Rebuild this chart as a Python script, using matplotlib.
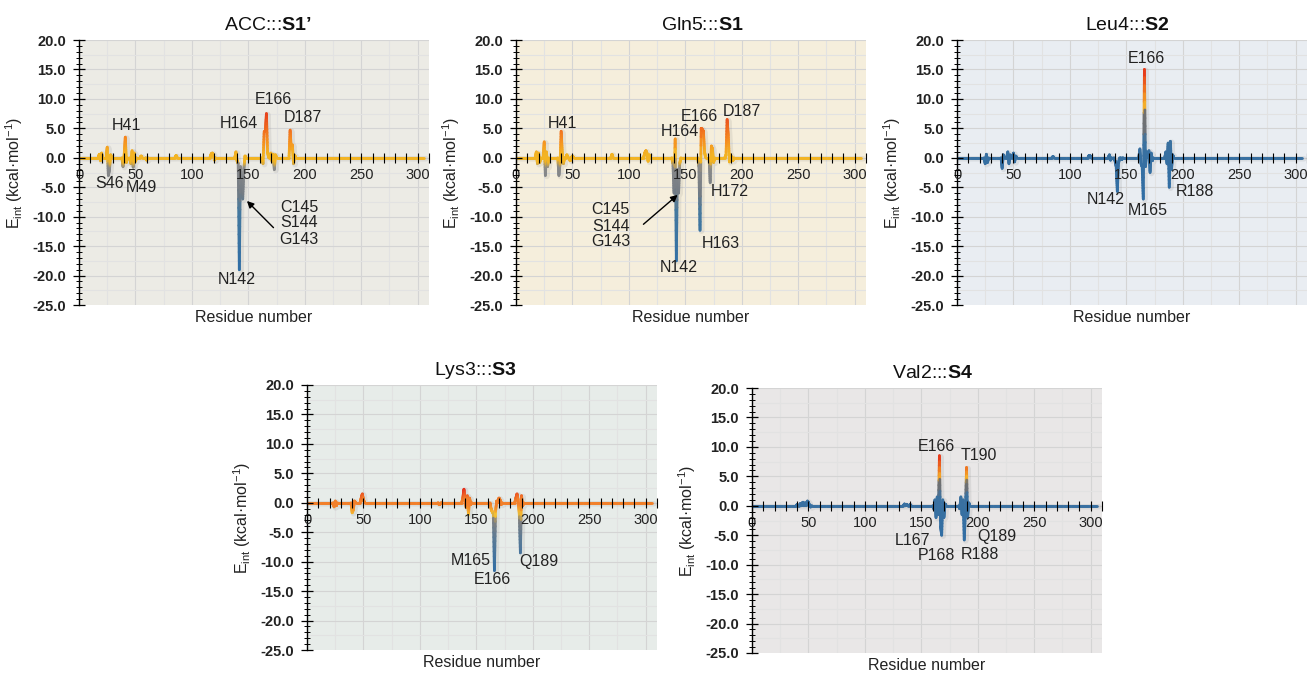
import numpy as np
import matplotlib
matplotlib.use('Agg')
import matplotlib.pyplot as plt
import matplotlib.transforms as mtransforms
from matplotlib.collections import LineCollection
from matplotlib.colors import LinearSegmentedColormap
from matplotlib.ticker import MultipleLocator, FormatStrFormatter

plt.rcParams['font.family'] = ['Liberation Sans', 'DejaVu Sans']
plt.rcParams['mathtext.fontset'] = 'custom'
plt.rcParams['mathtext.rm'] = 'Liberation Sans'
plt.rcParams['mathtext.it'] = 'Liberation Sans:italic'
plt.rcParams['mathtext.bf'] = 'Liberation Sans:bold'
plt.rcParams['axes.unicode_minus'] = False

N_RES = 306

# per-residue interaction energies (kcal/mol), residues not listed are ~0
acc_res = [18, 19, 20, 25, 26, 27, 28, 39, 40, 41, 42, 46, 47, 48, 49, 50, 55, 60, 86,
           117, 118, 119, 120, 139, 140, 141, 142, 143, 144, 145, 146, 147,
           163, 164, 165, 166, 167, 170, 171, 172, 173, 174, 187, 188, 189, 190, 191]
acc_e = [0.6, -0.5, 0.8, 1.8, -3.0, -2.0, 0.5, -1.5, 0.5, 3.5, -0.8, -1.0, 1.2, -1.6, 0.8, -0.6, 0.3, -0.4, 0.4,
         0.6, 0.8, 0.5, -0.4, 1.0, -0.5, -1.0, -19.0, -1.5, -4.0, -7.0, -2.0, 0.3,
         -1.0, 4.5, 4.5, 7.5, 1.0, 0.8, -0.6, 0.6, -2.0, 0.5, 4.7, 1.5, 2.2, -1.0, 0.4]

gln_res = [18, 19, 20, 21, 25, 26, 27, 28, 38, 39, 40, 41, 42, 45, 48, 50, 85,
           114, 115, 116, 117, 118, 139, 140, 141, 142, 143, 144, 145,
           162, 163, 164, 165, 166, 167, 172, 173, 174, 175, 186, 187, 188, 189, 190, 192]
gln_e = [1.0, -1.0, 0.8, -0.8, 2.7, -3.0, 1.0, -1.5, -3.0, -1.0, 4.5, 0.8, -1.0, 0.5, -0.5, 0.3, 0.6,
         0.8, 1.2, 0.8, -0.6, 0.5, -1.0, -6.0, 3.2, -17.5, -2.0, -6.0, -1.0,
         -1.5, -12.3, 5.0, 4.8, 4.5, 1.0, -4.2, 2.0, 1.5, -0.8, 0.5, 6.5, 3.8, -0.7, 0.5, -0.5]

leu_res = [25, 26, 27, 40, 41, 45, 46, 47, 50, 51, 52, 85, 117, 118, 135, 136,
           140, 141, 142, 143, 146, 162, 163, 164, 165, 166, 167, 168,
           170, 171, 172, 173, 185, 186, 187, 188, 189, 190, 191]
leu_e = [-1.0, 0.6, -0.8, -1.8, 0.5, 1.0, -1.0, 0.5, 0.8, -0.7, 0.3, 0.2, 0.4, 0.3, 0.5, -0.4,
         -0.5, -1.5, -5.7, -1.0, -0.3, 1.5, -1.0, -1.5, -7.0, 15.0, -1.5, 1.0,
         1.2, -2.5, 0.8, -0.5, 1.0, -1.0, 2.5, -5.0, 2.8, -2.0, 0.5]

lys_res = [24, 25, 26, 40, 41, 42, 48, 49, 50, 117, 118,
           138, 139, 140, 141, 142, 143, 144, 145,
           163, 164, 165, 166, 167, 168, 170, 171, 172, 185, 186, 187, 188, 189, 190, 191]
lys_e = [-0.7, 0.3, -0.5, -1.7, -1.2, 0.3, 0.8, 1.5, 0.5, -0.3, -0.2,
         0.8, 2.3, 0.5, -0.8, 1.2, -2.0, 0.8, -0.3,
         -1.0, -1.5, -1.8, -11.5, -1.5, 0.3, 0.8, 0.5, -0.3, 0.8, 1.5, 0.5, -1.8, -8.5, 1.2, -0.5]

val_res = [40, 43, 45, 47, 49, 50, 52, 135, 137, 140,
           161, 162, 163, 164, 165, 166, 167, 168, 169, 170, 171,
           184, 185, 186, 187, 188, 189, 190, 191, 192]
val_e = [0.2, 0.4, 0.6, 0.5, 0.8, 0.6, -0.2, 0.3, 0.2, 0.2,
         -0.5, 1.0, -2.0, 1.5, -1.5, 8.5, -3.5, -5.0, 1.0, -2.0, 0.3,
         -0.5, 1.5, -1.5, 1.0, -5.8, -1.0, 6.5, -2.0, 0.5]

# residue labels: (text, x, y)
acc_labels = [('H41', 42, 5.4), ('S46', 27.5, -4.3), ('M49', 55, -5.1), ('H164', 142, 5.8),
              ('E166', 172, 9.9), ('D187', 198, 6.9), ('C145', 195, -8.5), ('S144', 195, -11.0),
              ('G143', 194.5, -13.9), ('N142', 140, -20.7)]
gln_labels = [('H41', 41, 5.8), ('H164', 145, 4.5), ('E166', 162, 7.0), ('D187', 200, 7.9),
              ('H172', 189, -5.8), ('H163', 181, -14.6), ('N142', 144, -18.6),
              ('C145', 84, -8.8), ('S144', 84, -11.6), ('G143', 84, -14.3)]
leu_labels = [('E166', 167.5, 16.8), ('N142', 132, -7.1), ('M165', 169, -8.9), ('R188', 211, -5.8)]
lys_labels = [('M165', 145, -9.75), ('E166', 164, -13.0), ('Q189', 205, -10.0)]
val_labels = [('E166', 163.5, 10.1), ('T190', 201, 8.6), ('L167', 142.5, -5.9),
              ('P168', 163.5, -8.4), ('R188', 201.5, -8.3), ('Q189', 216.5, -5.3)]

# colour stops (energy value, colour) for each panel
gold_stops = [(-20, '#2c6ca6'), (-9, '#44799f'), (-6, '#737b84'), (-1.5, '#8a8a8a'),
              (-0.6, '#f3b423'), (0.6, '#f3b423'), (3.0, '#f68c1f'), (8.0, '#e6361a')]
leu_stops = [(-10, '#2c6ca6'), (3.0, '#3b71a0'), (4.0, '#6b7077'), (8.0, '#707070'),
             (8.6, '#f4b22a'), (11, '#f07d20'), (15, '#e52e1a')]
val_stops = [(-10, '#2c6ca6'), (1.8, '#3b71a0'), (2.6, '#6b7077'), (4.0, '#707070'),
             (4.6, '#f4b22a'), (6.0, '#f07d20'), (8.5, '#e52e1a')]
lys_stops = [(-12, '#2c6ca6'), (-6, '#5a7a96'), (-3, '#808080'), (-1.9, '#f5c030'),
             (-0.4, '#f2802a'), (0.6, '#f2802a'), (2.4, '#e5281a')]

panels = [
    ("ACC:::$\\mathbf{S1\u2019}$", acc_res, acc_e, acc_labels, gold_stops, '#ecebe5', (79, 40), 0.539),
    ("Gln5:::$\\mathbf{S1}$", gln_res, gln_e, gln_labels, gold_stops, '#f5eedc', (516, 40), 0.533),
    ("Leu4:::$\\mathbf{S2}$", leu_res, leu_e, leu_labels, leu_stops, '#e9edf2', (957, 40), 0.486),
    ("Lys3:::$\\mathbf{S3}$", lys_res, lys_e, lys_labels, lys_stops, '#e7ece9', (307, 385), 0.48),
    ("Val2:::$\\mathbf{S4}$", val_res, val_e, val_labels, val_stops, '#e9e7e7', (752, 388), 0.517),
]

W, H = 1307, 673
AW, AH = 350, 265

fig = plt.figure(figsize=(W / 100, H / 100), dpi=100)


def make_cmap(stops):
    vals = np.array([s[0] for s in stops], dtype=float)
    lo, hi = vals[0], vals[-1]
    cm = LinearSegmentedColormap.from_list('c', [((v - lo) / (hi - lo), c) for v, c in stops])
    return cm, lo, hi


def draw_profile(ax, res, e, stops):
    x = np.arange(1, N_RES + 1)
    y = np.zeros(N_RES)
    y[np.array(res) - 1] = e
    cm, lo, hi = make_cmap(stops)
    t = np.linspace(0, 1, 13)
    segs, vals = [], []
    for i in range(N_RES - 1):
        if y[i] == 0 and y[i + 1] == 0:
            segs.append([(x[i], 0), (x[i + 1], 0)])
            vals.append(0.0)
            continue
        xs = x[i] + t * (x[i + 1] - x[i])
        ys = y[i] + t * (y[i + 1] - y[i])
        for j in range(len(t) - 1):
            segs.append([(xs[j], ys[j]), (xs[j + 1], ys[j + 1])])
            vals.append((ys[j] + ys[j + 1]) / 2)
    vals = np.clip((np.array(vals) - lo) / (hi - lo), 0, 1)
    # soft shadow
    shadow = mtransforms.offset_copy(ax.transData, fig=fig, x=1.5, y=-1.0, units='dots')
    ax.plot(x, y, color='#555555', alpha=0.1, lw=4, transform=shadow, zorder=1.8,
            solid_joinstyle='round', solid_capstyle='round')
    lc = LineCollection(segs, colors=cm(vals), linewidths=2.0, capstyle='round', zorder=2)
    ax.add_collection(lc)


for title, res, e, labels, stops, bg, (px, py), tx in panels:
    ax = fig.add_axes([px / W, (H - py - AH) / H, AW / W, AH / H])
    ax.set_facecolor(bg)
    ax.set_xlim(0, 310)
    ax.set_ylim(-25, 20)

    # light grid
    for gx in np.arange(25, 310, 25):
        ax.axvline(gx, color='#d4d4d4' if gx % 50 == 0 else '#e2e2e2', lw=0.8, zorder=0.5)
    for gy in np.arange(-22.5, 20.1, 2.5):
        ax.axhline(gy, color='#d4d4d4' if gy % 5 == 0 else '#e2e2e2', lw=0.8, zorder=0.5)

    draw_profile(ax, res, e, stops)

    for sp in ['top', 'right']:
        ax.spines[sp].set_visible(False)
    ax.spines['bottom'].set_position(('data', 0))
    ax.spines['bottom'].set_linewidth(0)
    ax.spines['left'].set_linewidth(1.0)
    ax.set_axisbelow(False)

    ax.xaxis.set_major_locator(MultipleLocator(50))
    ax.xaxis.set_minor_locator(MultipleLocator(10))
    ax.yaxis.set_major_locator(MultipleLocator(5))
    ax.yaxis.set_minor_locator(MultipleLocator(1))
    ax.yaxis.set_major_formatter(FormatStrFormatter('%.1f'))
    ax.tick_params(axis='x', which='both', direction='inout', length=7, width=0.8,
                   labelsize=10.5, pad=4, labelcolor='#222222')
    ax.tick_params(axis='y', which='major', direction='inout', length=9, width=0.9,
                   labelsize=10.5, pad=5, labelcolor='#222222')
    ax.tick_params(axis='y', which='minor', direction='inout', length=5, width=0.7)
    for lab in ax.get_yticklabels():
        lab.set_fontweight('bold')

    ax.set_ylabel('E$_{\\mathrm{int}}$ (kcal\u00b7mol$^{-1}$)', fontsize=11.5, color='#222222')
    ax.yaxis.set_label_coords(-0.155, 0.5)
    ax.set_xlabel('Residue number', fontsize=11.5, color='#222222')
    ax.xaxis.set_label_coords(0.5, -0.02)
    ax.set_title(title, fontsize=14, color='#111111', pad=7, x=tx)

    for txt, lx, ly in labels:
        ax.text(lx, ly, txt, fontsize=11.5, color='#222222', ha='center', va='center', zorder=4)

    if title.startswith('ACC'):
        ax.annotate('', xy=(147, -7.0), xytext=(174, -12.2),
                    arrowprops=dict(arrowstyle='-|>', color='black', lw=1, mutation_scale=10))
    if title.startswith('Gln5'):
        ax.annotate('', xy=(145, -6.0), xytext=(111, -11.6),
                    arrowprops=dict(arrowstyle='-|>', color='black', lw=1, mutation_scale=10))

fig.savefig('out.png', dpi=100)
